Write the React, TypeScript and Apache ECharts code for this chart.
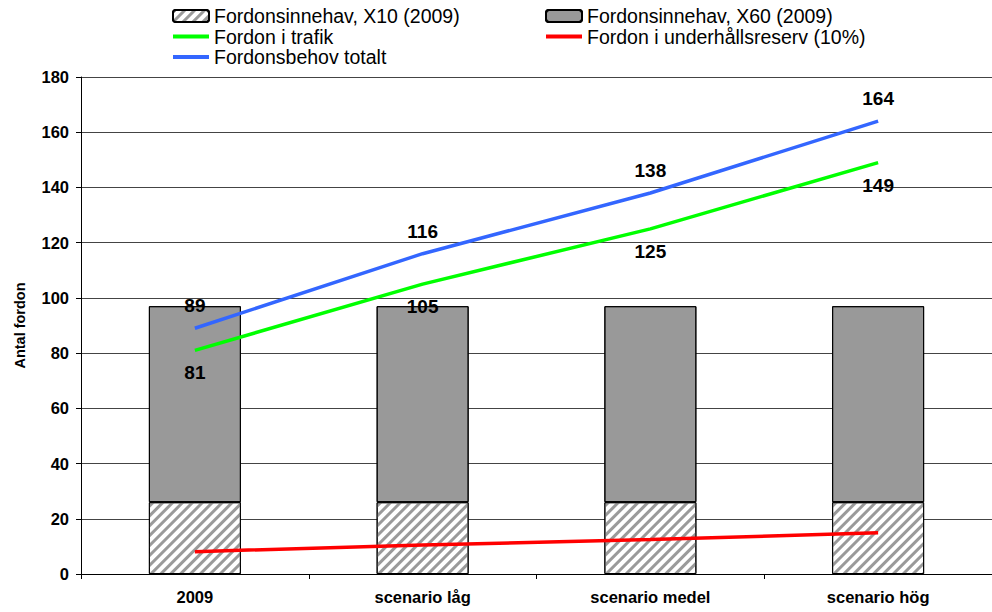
import React, { useEffect, useRef } from "react";
import * as echarts from "echarts";

const categories = ["2009", "scenario låg", "scenario medel", "scenario hög"];
const x10 = [26, 26, 26, 26];
const x60 = [71, 71, 71, 71];
const trafik = [81, 105, 125, 149];
const reserv = [8.1, 10.5, 12.5, 14.9];
const behov = [89, 116, 138, 164];
const yTicks = { min: 0, max: 180, interval: 20 };

export default function App() {
  const ref = useRef<HTMLDivElement>(null);
  useEffect(() => {
    const chart = echarts.init(ref.current!, undefined, { renderer: "svg" });
    const font = "Liberation Sans, Arial, sans-serif";
    const legendText = { fontFamily: font, fontSize: 19.5, color: "#000", lineHeight: 18 };
    const lineIcon = "path://M0,0 L36,0 L36,4 L0,4 Z";
    const labelStyle = {
      show: true,
      fontFamily: font,
      fontWeight: "bold",
      fontSize: 19,
      color: "#000",
      opacity: 1,
      textBorderWidth: 0,
      distance: 13,
    };
    chart.setOption({
      animation: false,
      aria: { enabled: true, decal: { show: true } },
      grid: { left: 81, right: 0, top: 77, bottom: 38 },
      legend: [
        {
          data: [
            { name: "Fordonsinnehav, X10 (2009)" },
            { name: "Fordon i trafik", icon: lineIcon },
            { name: "Fordonsbehov totalt", icon: lineIcon },
          ],
          orient: "vertical",
          left: 167,
          top: 1,
          itemWidth: 36,
          itemHeight: 12,
          itemGap: 0.5,
          symbolKeepAspect: true,
          textStyle: legendText,
        },
        {
          data: [
            { name: "Fordonsinnehav, X60 (2009)" },
            { name: "Fordon i underhållsreserv (10%)", icon: lineIcon },
          ],
          orient: "vertical",
          left: 540,
          top: 1,
          itemWidth: 36,
          itemHeight: 12,
          itemGap: 0.5,
          symbolKeepAspect: true,
          textStyle: legendText,
        },
      ],
      xAxis: {
        type: "category",
        data: categories,
        axisLine: { lineStyle: { color: "#000", width: 1 } },
        axisTick: { show: true, length: 5, lineStyle: { color: "#000" } },
        axisLabel: { fontFamily: font, fontWeight: "bold", fontSize: 16.5, color: "#000", margin: 14 },
      },
      yAxis: {
        type: "value",
        min: yTicks.min,
        max: yTicks.max,
        interval: yTicks.interval,
        name: "Antal fordon",
        nameLocation: "middle",
        nameGap: 54,
        nameTextStyle: { fontFamily: font, fontWeight: "bold", fontSize: 14.5, color: "#000" },
        axisLine: { show: true, lineStyle: { color: "#000", width: 1 } },
        axisTick: { show: true, length: 5, lineStyle: { color: "#000" } },
        axisLabel: { fontFamily: font, fontWeight: "bold", fontSize: 16.5, color: "#000", margin: 12 },
        splitLine: { lineStyle: { color: "#444", width: 1 } },
      },
      series: [
        {
          name: "Fordonsinnehav, X10 (2009)",
          type: "bar",
          stack: "a",
          data: x10,
          barWidth: 92,
          itemStyle: {
            color: "#ffffff",
            borderColor: "#000",
            borderWidth: 1,
            decal: {
              symbol: "rect",
              symbolSize: 1,
              dashArrayX: [1, 0],
              dashArrayY: [3, 3.5],
              rotation: -Math.PI / 4,
              color: "#9a9a9a",
            },
          },
        },
        {
          name: "Fordonsinnehav, X60 (2009)",
          type: "bar",
          stack: "a",
          data: x60,
          barWidth: 92,
          itemStyle: { color: "#999999", borderColor: "#000", borderWidth: 1, decal: { symbol: "none" } },
        },
        {
          name: "Fordon i trafik",
          type: "line",
          data: trafik,
          symbol: "none",
          lineStyle: { color: "#00ff00", width: 3.5 },
          itemStyle: { color: "#00ff00", decal: { symbol: "none" } },
        },
        {
          name: "Fordon i underhållsreserv (10%)",
          type: "line",
          data: reserv,
          symbol: "none",
          lineStyle: { color: "#ff0000", width: 3.5 },
          itemStyle: { color: "#ff0000", decal: { symbol: "none" } },
        },
        {
          name: "Fordonsbehov totalt",
          type: "line",
          data: behov,
          symbol: "none",
          lineStyle: { color: "#3366ff", width: 3.5 },
          itemStyle: { color: "#3366ff", decal: { symbol: "none" } },
        },
        {
          name: "trafikLabels",
          type: "scatter",
          data: trafik,
          symbolSize: 0,
          itemStyle: { color: "#000", opacity: 0, decal: { symbol: "none" } },
          label: { ...labelStyle, position: "bottom" },
          silent: true,
        },
        {
          name: "behovLabels",
          type: "scatter",
          data: behov,
          symbolSize: 0,
          itemStyle: { color: "#000", opacity: 0, decal: { symbol: "none" } },
          label: { ...labelStyle, position: "top" },
          silent: true,
        },
      ],
    });
    return () => chart.dispose();
  }, []);
  return <div ref={ref} style={{ width: 992, height: 612, position: "absolute", left: 0, top: 0 }} />;
}
